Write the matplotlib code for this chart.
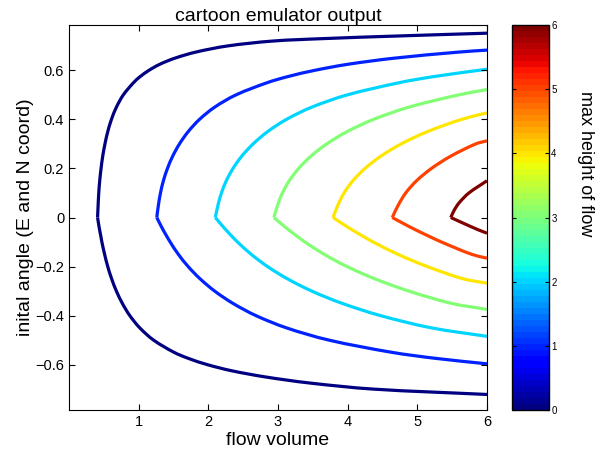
import numpy as np
import matplotlib
matplotlib.use('Agg')
import matplotlib.pyplot as plt
from matplotlib.colors import Normalize
from matplotlib.cm import ScalarMappable
from matplotlib.path import Path
from matplotlib.patches import PathPatch

plt.rcParams['font.family'] = ['Liberation Sans', 'DejaVu Sans']

# contour levels (max height of flow) and the curve traced for each one,
# read off the picture: lower branch from the right edge in to the vertex, then the upper branch out
levels = [0, 1, 2, 3, 4, 5, 6]

h0_x = [6.0, 4.362, 3.445, 2.808, 2.330, 1.981, 1.715, 1.507, 1.213, 1.015, 0.872, 0.765, 0.680, 0.612, 0.556, 0.511, 0.472, 0.456, 0.439, 0.424,
        0.41,
        0.418, 0.427, 0.441, 0.460, 0.484, 0.516, 0.556, 0.609, 0.680, 0.779, 0.926, 1.022, 1.145, 1.302, 1.519, 1.822, 2.278, 2.929, 3.661, 4.659, 6.0]
h0_y = [-0.722, -0.70, -0.675, -0.65, -0.625, -0.60, -0.575, -0.55, -0.50, -0.45, -0.40, -0.35, -0.30, -0.25, -0.20, -0.15, -0.10, -0.075, -0.05, -0.025,
        0.0,
        0.05, 0.10, 0.15, 0.20, 0.25, 0.30, 0.35, 0.40, 0.45, 0.50, 0.55, 0.575, 0.60, 0.625, 0.65, 0.675, 0.70, 0.72, 0.73, 0.74, 0.752]

h1_x = [6.0, 5.272, 4.632, 3.728, 3.119, 2.681, 2.351, 2.090, 1.881, 1.710, 1.569, 1.452, 1.400, 1.350, 1.304,
        1.26,
        1.283, 1.313, 1.355, 1.413, 1.488, 1.585, 1.710, 1.872, 2.090, 2.395, 2.844, 3.142, 3.520, 4.0, 4.667, 5.60, 6.0]
h1_y = [-0.597, -0.575, -0.55, -0.50, -0.45, -0.40, -0.35, -0.30, -0.25, -0.20, -0.15, -0.10, -0.075, -0.05, -0.025,
        0.0,
        0.05, 0.10, 0.15, 0.20, 0.25, 0.30, 0.35, 0.40, 0.45, 0.50, 0.55, 0.575, 0.60, 0.625, 0.65, 0.675, 0.683]

h2_x = [6.0, 5.198, 4.468, 3.918, 3.483, 3.134, 2.849, 2.615, 2.419, 2.333, 2.251, 2.174,
        2.10,
        2.138, 2.188, 2.258, 2.354, 2.479, 2.642, 2.849, 3.120, 3.483, 3.992, 4.740, 5.237, 6.0]
h2_y = [-0.485, -0.45, -0.40, -0.35, -0.30, -0.25, -0.20, -0.15, -0.10, -0.075, -0.05, -0.025,
        0.0,
        0.05, 0.10, 0.15, 0.20, 0.25, 0.30, 0.35, 0.40, 0.45, 0.50, 0.55, 0.575, 0.605]

h3_x = [6.0, 5.485, 4.876, 4.388, 3.989, 3.661, 3.387, 3.267, 3.151, 3.043,
        2.94,
        2.994, 3.063, 3.161, 3.296, 3.471, 3.698, 3.989, 4.368, 4.876, 5.589, 6.0]
h3_y = [-0.375, -0.35, -0.30, -0.25, -0.20, -0.15, -0.10, -0.075, -0.05, -0.025,
        0.0,
        0.05, 0.10, 0.15, 0.20, 0.25, 0.30, 0.35, 0.40, 0.45, 0.50, 0.522]

h4_x = [6.0, 5.657, 5.142, 4.720, 4.366, 4.211, 4.062, 3.923,
        3.79,
        3.859, 3.948, 4.075, 4.249, 4.475, 4.767, 5.142, 5.632, 6.0]
h4_y = [-0.268, -0.25, -0.20, -0.15, -0.10, -0.075, -0.05, -0.025,
        0.0,
        0.05, 0.10, 0.15, 0.20, 0.25, 0.30, 0.35, 0.40, 0.427]

h5_x = [6.0, 5.778, 5.346, 5.156, 4.973, 4.803,
        4.64,
        4.725, 4.833, 4.989, 5.202, 5.478, 5.836, 6.0]
h5_y = [-0.166, -0.15, -0.10, -0.075, -0.05, -0.025,
        0.0,
        0.05, 0.10, 0.15, 0.20, 0.25, 0.30, 0.313]

h6_x = [6.0, 5.873, 5.673, 5.48, 5.53, 5.60, 5.74, 6.0]
h6_y = [-0.064, -0.05, -0.025, 0.0, 0.03, 0.06, 0.10, 0.15]

curves = [(h0_x, h0_y), (h1_x, h1_y), (h2_x, h2_y), (h3_x, h3_y),
          (h4_x, h4_y), (h5_x, h5_y), (h6_x, h6_y)]


def smooth_path(xs, ys, sx=69.8, sy=245.0):
    # cubic bezier through the read points (tangents from neighbours), in roughly pixel scale
    q = np.column_stack([xs, ys]) * [sx, sy]
    d = np.hypot(*np.diff(q, axis=0).T)
    m = np.zeros_like(q)
    m[0] = (q[1] - q[0]) / d[0]
    m[-1] = (q[-1] - q[-2]) / d[-1]
    for i in range(1, len(q) - 1):
        m[i] = (q[i + 1] - q[i - 1]) / (d[i - 1] + d[i])
    verts = [q[0]]
    codes = [Path.MOVETO]
    for i in range(len(q) - 1):
        verts += [q[i] + m[i] * d[i] / 3, q[i + 1] - m[i + 1] * d[i] / 3, q[i + 1]]
        codes += [Path.CURVE4] * 3
    return Path(np.array(verts) / [sx, sy], codes)


cmap = plt.get_cmap('jet', 64)
norm = Normalize(vmin=0, vmax=6)

fig = plt.figure(figsize=(5.97, 4.54), dpi=100)
ax = fig.add_axes([69 / 597, 44 / 454, 418 / 597, 385 / 454])

for lev, (cx, cy) in zip(levels, curves):
    k = cy.index(0.0)  # vertex: keep it sharp, smooth each branch separately
    for bx, by in [(cx[:k + 1], cy[:k + 1]), (cx[k:], cy[k:])]:
        ax.add_patch(PathPatch(smooth_path(bx, by), fill=False, edgecolor=cmap(norm(lev)),
                               lw=2.3, capstyle='butt', joinstyle='round'))

ax.set_xlim(0, 6)
ax.set_ylim(-np.pi / 4, np.pi / 4)
ax.set_xticks([1, 2, 3, 4, 5, 6])
ax.set_yticks([-0.6, -0.4, -0.2, 0, 0.2, 0.4, 0.6])
ax.set_yticklabels(['\u22120.6', '\u22120.4', '\u22120.2', '0', '0.2', '0.4', '0.6'])
ax.tick_params(direction='in', top=True, right=True, length=4, labelsize=10.5)
ax.set_xlabel('flow volume', fontsize=14, labelpad=2)
ax.set_ylabel('inital angle (E and N coord)', fontsize=14, labelpad=1)
ax.set_title('cartoon emulator output', fontsize=14, pad=3)

cax = fig.add_axes([512 / 597, 44 / 454, 36.5 / 597, 385 / 454])
sm = ScalarMappable(norm=norm, cmap=cmap)
cb = fig.colorbar(sm, cax=cax, ticks=levels)
cb.outline.set_linewidth(1)
cax.tick_params(direction='in', left=True, right=True, length=3, labelsize=7, pad=2)
cb.set_label('max height of flow', fontsize=13, rotation=270)
cax.yaxis.set_label_coords(2.25, 0.64)

fig.savefig('out.png', dpi=100)
